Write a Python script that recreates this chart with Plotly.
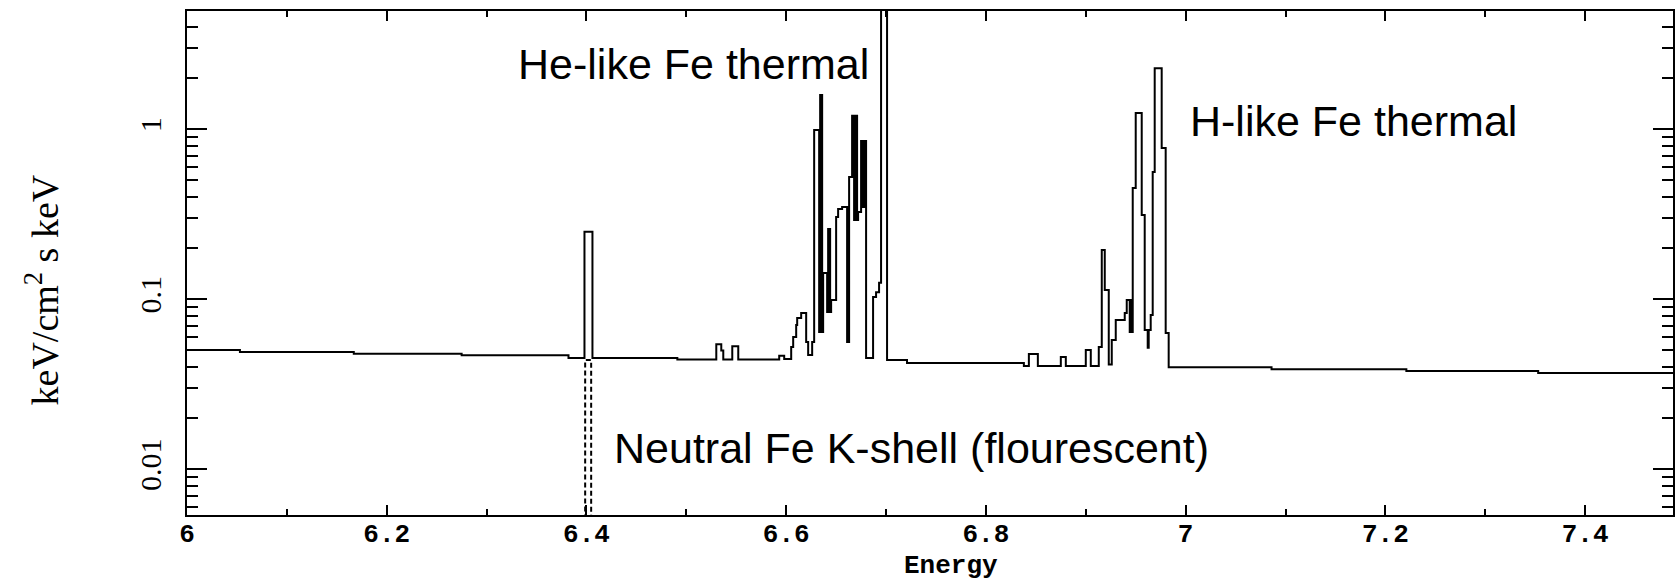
import plotly.graph_objects as go

# Bin left edges (keV) and model flux (keV/cm^2 s keV) for the total spectrum (step histogram)
energy_edges = [
    6.000, 6.053, 6.167, 6.275, 6.382, 6.398, 6.406, 6.491,
    6.530, 6.535, 6.537, 6.546, 6.552, 6.593, 6.598,
    6.605, 6.607, 6.610, 6.611, 6.615, 6.620, 6.622, 6.626,
    6.628, 6.633, 6.634, 6.636, 6.637, 6.641, 6.642, 6.644, 6.645,
    6.650, 6.652, 6.656, 6.661, 6.663, 6.666, 6.668, 6.669, 6.671,
    6.672, 6.675, 6.677, 6.678, 6.680, 6.687, 6.690, 6.693, 6.695,
    6.701, 6.721, 6.838, 6.843, 6.852, 6.875, 6.880, 6.900, 6.905,
    6.913, 6.916, 6.919, 6.923, 6.926, 6.930, 6.939, 6.941, 6.944,
    6.945, 6.946, 6.947, 6.950, 6.956, 6.959, 6.962, 6.963, 6.965,
    6.967, 6.969, 6.976, 6.980, 6.983, 7.086, 7.221, 7.353, 7.488,
]
flux = [
    0.0503, 0.0490, 0.0479, 0.0468, 0.0452, 0.250, 0.0452, 0.0442,
    0.0544, 0.0500, 0.0442, 0.0530, 0.0442, 0.0466, 0.0446,
    0.0524, 0.0600, 0.0706, 0.0776, 0.0830, 0.0560, 0.0470, 0.0560,
    0.990, 0.0642, 1.59, 0.0642, 0.143, 0.0842, 0.259, 0.0842, 0.0990,
    0.305, 0.340, 0.349, 0.0560, 0.524, 1.20, 0.293, 1.20, 0.293,
    0.326, 0.853, 0.349, 0.853, 0.0452, 0.1031, 0.110, 0.125, 8.0,
    0.0439, 0.0422, 0.0405, 0.0477, 0.0405, 0.0458, 0.0405, 0.0503, 0.0405,
    0.0524, 0.195, 0.1134, 0.0414, 0.0576, 0.0755, 0.0830, 0.0990, 0.0642,
    0.0990, 0.0642, 0.4516, 1.247, 0.313, 0.0660, 0.0518, 0.0660, 0.0808,
    0.561, 2.29, 0.776, 0.0633, 0.0398, 0.0388, 0.0378, 0.0368, 0.0368,
]

# Neutral Fe K-shell fluorescent component (dashed)
fluor_edges = [6.000, 6.3987, 6.4047, 7.488]
fluor_flux = [1e-4, 0.0439, 1e-4, 1e-4]

x_ticks = [6.0, 6.2, 6.4, 6.6, 6.8, 7.0, 7.2, 7.4]
x_tick_text = ["6", "6.2", "6.4", "6.6", "6.8", "7", "7.2", "7.4"]
y_ticks = [0.01, 0.1, 1]
y_tick_text = ["0.01", "0.1", "1"]
y_minor = [m * d for d in (0.001, 0.01, 0.1, 1) for m in range(2, 10)]

fig = go.Figure()
fig.add_trace(go.Scatter(
    x=fluor_edges, y=fluor_flux, mode="lines",
    line=dict(shape="hv", color="black", width=2, dash="5px,3px"),
    hoverinfo="skip",
))
fig.add_trace(go.Scatter(
    x=energy_edges, y=flux, mode="lines",
    line=dict(shape="hv", color="black", width=2),
))

axis_common = dict(
    showline=True, linecolor="black", linewidth=2, mirror="allticks",
    ticks="inside", tickcolor="black", tickwidth=2,
    showgrid=False, zeroline=False,
)

fig.update_layout(
    width=1677, height=581,
    margin=dict(l=187, r=2, t=11, b=66),
    paper_bgcolor="white", plot_bgcolor="white",
    showlegend=False,
    xaxis=dict(
        range=[6.0, 7.488], tickmode="array", tickvals=x_ticks,
        ticktext=x_tick_text,
        ticklen=10,
        minor=dict(ticks="inside", dtick=0.1, tick0=6.0, ticklen=6,
                   tickwidth=2, tickcolor="black"),
        tickfont=dict(family="Liberation Mono", size=26, color="black", weight="bold"),
        ticklabelstandoff=-6,
        **axis_common,
    ),
    yaxis=dict(
        type="log", range=[-2.269, 0.696],
        tickmode="array", tickvals=y_ticks, ticktext=y_tick_text,
        tickangle=-90, ticklen=20,
        minor=dict(ticks="inside", tickmode="array", tickvals=y_minor,
                   ticklen=11, tickwidth=2, tickcolor="black"),
        tickfont=dict(family="Liberation Serif", size=30, color="black"),
        ticklabelstandoff=12,
        **axis_common,
    ),
    annotations=[
        dict(text="He-like Fe thermal", x=6.329, xref="x", xanchor="left",
             y=0.8958, yref="paper", yanchor="middle", showarrow=False,
             font=dict(family="Liberation Sans", size=43, color="black")),
        dict(text="H-like Fe thermal", x=7.002, xref="x", xanchor="left",
             y=0.7817, yref="paper", yanchor="middle", showarrow=False,
             font=dict(family="Liberation Sans", size=43, color="black")),
        dict(text="Neutral Fe K-shell (flourescent)", x=6.426, xref="x", xanchor="left",
             y=0.1329, yref="paper", yanchor="middle", showarrow=False,
             font=dict(family="Liberation Sans", size=43, color="black")),
        dict(text="Energy", x=0.514, xref="paper", xanchor="center",
             y=-0.102, yref="paper", yanchor="middle", showarrow=False,
             font=dict(family="Liberation Mono", size=26, color="black", weight="bold")),
        dict(text="keV/cm<sup>2</sup> s keV", x=-0.0974, xref="paper", xanchor="center",
             y=0.446, yref="paper", yanchor="middle", showarrow=False, textangle=-90,
             font=dict(family="Liberation Serif", size=38, color="black")),
    ],
)

fig.write_html("out.html")
